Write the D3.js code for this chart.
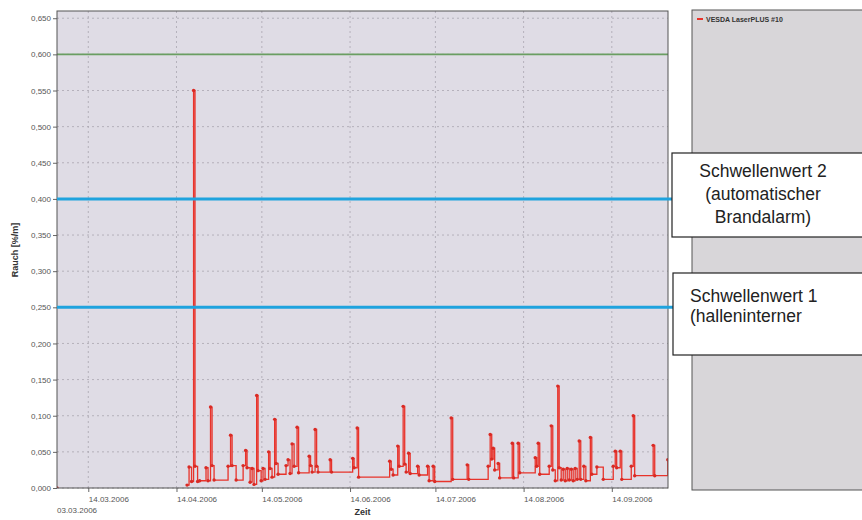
<!DOCTYPE html>
<html>
<head>
<meta charset="utf-8">
<script src="https://cdn.jsdelivr.net/npm/d3@7"></script>
<style>
  body { margin: 0; background: #fff; }
  text { font-family: "Liberation Sans", Arial, sans-serif; }
</style>
</head>
<body>
<svg id="chart" width="862" height="520"></svg>
<script>
"use strict";

const readingTimes = [
  "2006-03-03 00", "2006-04-17 17", "2006-04-18 10", "2006-04-19 07", "2006-04-20 00", "2006-04-20 12",
  "2006-04-21 10", "2006-04-22 03", "2006-04-24 09", "2006-04-25 02", "2006-04-25 23", "2006-04-26 12",
  "2006-04-27 05", "2006-05-02 03", "2006-05-03 00", "2006-05-03 13", "2006-05-04 23", "2006-05-07 10",
  "2006-05-08 07", "2006-05-08 19", "2006-05-09 21", "2006-05-10 14", "2006-05-11 06", "2006-05-12 04",
  "2006-05-12 16", "2006-05-13 18", "2006-05-14 10", "2006-05-15 03", "2006-05-16 09", "2006-05-16 21",
  "2006-05-17 14", "2006-05-18 12", "2006-05-19 00", "2006-05-19 17", "2006-05-22 12", "2006-05-23 05",
  "2006-05-23 22", "2006-05-24 15", "2006-05-25 08", "2006-05-26 09", "2006-05-26 22", "2006-05-30 15",
  "2006-05-31 03", "2006-05-31 16", "2006-06-01 17", "2006-06-02 06", "2006-06-02 18", "2006-06-07 00",
  "2006-06-07 12", "2006-06-14 22", "2006-06-15 10", "2006-06-16 12", "2006-06-17 00", "2006-06-27 22",
  "2006-06-28 11", "2006-06-29 03", "2006-06-30 18", "2006-07-01 06", "2006-07-02 16", "2006-07-03 05",
  "2006-07-03 17", "2006-07-04 14", "2006-07-05 03", "2006-07-07 18", "2006-07-08 07", "2006-07-11 06",
  "2006-07-11 19", "2006-07-13 05", "2006-07-13 18", "2006-07-19 13", "2006-07-20 02", "2006-07-25 04",
  "2006-07-25 17", "2006-08-01 13", "2006-08-02 06", "2006-08-02 19", "2006-08-03 07", "2006-08-03 20",
  "2006-08-05 01", "2006-08-05 14", "2006-08-10 00", "2006-08-10 12", "2006-08-12 02", "2006-08-12 15",
  "2006-08-18 02", "2006-08-18 14", "2006-08-19 03", "2006-08-19 16", "2006-08-23 00", "2006-08-23 17",
  "2006-08-24 06", "2006-08-25 03", "2006-08-26 00", "2006-08-26 12", "2006-08-27 05", "2006-08-27 22",
  "2006-08-28 15", "2006-08-29 08", "2006-08-30 01", "2006-08-30 18", "2006-08-31 10", "2006-09-01 03",
  "2006-09-01 20", "2006-09-02 13", "2006-09-03 02", "2006-09-04 04", "2006-09-04 21", "2006-09-06 11",
  "2006-09-06 23", "2006-09-08 18", "2006-09-11 00", "2006-09-14 12", "2006-09-15 05", "2006-09-15 17",
  "2006-09-16 23", "2006-09-17 12", "2006-09-20 20", "2006-09-21 13", "2006-09-22 01", "2006-09-28 13",
  "2006-09-29 02", "2006-10-03 16"
];
const readingValues = [
  0.000, 0.004, 0.029, 0.009, 0.550, 0.030,
  0.009, 0.010, 0.028, 0.010, 0.112, 0.031,
  0.011, 0.030, 0.073, 0.031, 0.011, 0.031,
  0.052, 0.028, 0.008, 0.027, 0.005, 0.128,
  0.024, 0.010, 0.027, 0.012, 0.050, 0.027,
  0.015, 0.095, 0.034, 0.019, 0.031, 0.039,
  0.020, 0.061, 0.030, 0.084, 0.021, 0.044,
  0.031, 0.022, 0.081, 0.030, 0.022, 0.039,
  0.022, 0.041, 0.028, 0.083, 0.015, 0.037,
  0.026, 0.018, 0.058, 0.030, 0.113, 0.033,
  0.022, 0.048, 0.020, 0.030, 0.018, 0.030,
  0.010, 0.030, 0.009, 0.097, 0.012, 0.032,
  0.012, 0.030, 0.074, 0.040, 0.055, 0.025,
  0.034, 0.014, 0.062, 0.014, 0.062, 0.021,
  0.042, 0.030, 0.062, 0.019, 0.030, 0.086,
  0.025, 0.010, 0.141, 0.028, 0.011, 0.026,
  0.010, 0.027, 0.011, 0.026, 0.010, 0.027,
  0.012, 0.065, 0.012, 0.030, 0.010, 0.070,
  0.019, 0.029, 0.012, 0.030, 0.051, 0.028,
  0.051, 0.012, 0.030, 0.100, 0.017, 0.059,
  0.017, 0.039
];

const yTicks = [0, 0.05, 0.1, 0.15, 0.2, 0.25, 0.3, 0.35, 0.4, 0.45, 0.5, 0.55, 0.6, 0.65];
const xTickDates = ["2006-03-14", "2006-04-14", "2006-05-14", "2006-06-14", "2006-07-14", "2006-08-14", "2006-09-14"];
const timeDomain = ["2006-03-03 00", "2006-10-03 18"];
const startLabel = "03.03.2006";

const seriesName = "VESDA LaserPLUS #10";
const alarmLimit = 0.6;
const thresholdValues = [0.4, 0.25];
const thresholdNotes = [
  ["Schwellenwert 2", "(automatischer", "Brandalarm)"],
  ["Schwellenwert 1", "(halleninterner"]
];

const parseHour = d3.utcParse("%Y-%m-%d %H");
const parseDay = d3.utcParse("%Y-%m-%d");
const fmtDay = d3.utcFormat("%d.%m.%Y");

const readings = readingTimes.map((t, i) => ({ t: parseHour(t), v: readingValues[i] }));

const svg = d3.select("#chart");
const plot = { left: 57, right: 668, top: 11, bottom: 488 };

const x = d3.scaleUtc().domain(timeDomain.map(parseHour)).range([plot.left, plot.right]);
const y = d3.scaleLinear().domain([0, 0.66]).range([plot.bottom, plot.top]);

// plot background
svg.append("rect")
  .attr("x", plot.left).attr("y", plot.top)
  .attr("width", plot.right - plot.left).attr("height", plot.bottom - plot.top)
  .attr("fill", "#dfdce5");

svg.append("clipPath").attr("id", "clip")
  .append("rect")
  .attr("x", plot.left).attr("y", plot.top)
  .attr("width", plot.right - plot.left).attr("height", plot.bottom - plot.top);

// grid
svg.append("g").selectAll("line.hg")
  .data(yTicks)
  .join("line")
  .attr("x1", plot.left).attr("x2", plot.right)
  .attr("y1", d => y(d)).attr("y2", d => y(d))
  .attr("stroke", "#a9a6b0").attr("stroke-width", 0.8).attr("stroke-dasharray", "2,3");

svg.append("g").selectAll("line.vg")
  .data(xTickDates.map(parseDay))
  .join("line")
  .attr("x1", d => x(d)).attr("x2", d => x(d))
  .attr("y1", plot.top).attr("y2", plot.bottom)
  .attr("stroke", "#a9a6b0").attr("stroke-width", 0.8).attr("stroke-dasharray", "2,3");

// y axis
const yAxis = d3.axisLeft(y).tickValues(yTicks).tickSize(4).tickPadding(2)
  .tickFormat(d => d3.format(".3f")(d).replace(".", ","));
const gy = svg.append("g").attr("transform", `translate(${plot.left},0)`).call(yAxis);
gy.select(".domain").remove();
gy.selectAll("line").attr("stroke", "#666");
gy.selectAll("text").attr("font-size", 8).attr("fill", "#555")
  .attr("font-family", "'Liberation Sans', Arial, sans-serif");

// x axis
const xAxis = d3.axisBottom(x).tickValues(xTickDates.map(parseDay)).tickSize(4).tickFormat(fmtDay);
const gx = svg.append("g").attr("transform", `translate(0,${plot.bottom})`).call(xAxis);
gx.select(".domain").remove();
gx.selectAll("line").attr("stroke", "#666");
gx.selectAll("text").attr("font-size", 8).attr("fill", "#555")
  .attr("text-anchor", "start").attr("dy", "0.9em")
  .attr("font-family", "'Liberation Sans', Arial, sans-serif");

svg.append("text")
  .attr("x", plot.left).attr("y", 513)
  .attr("font-size", 8).attr("fill", "#555")
  .text(startLabel);

svg.append("text")
  .attr("x", (plot.left + plot.right) / 2).attr("y", 515)
  .attr("text-anchor", "middle").attr("font-size", 9).attr("font-weight", "bold").attr("fill", "#333")
  .text("Zeit");

svg.append("text")
  .attr("transform", "translate(18,250) rotate(-90)")
  .attr("text-anchor", "middle").attr("font-size", 9).attr("font-weight", "bold").attr("fill", "#333")
  .text("Rauch [%/m]");

// alarm limit (green)
svg.append("line")
  .attr("x1", plot.left).attr("x2", plot.right)
  .attr("y1", y(alarmLimit)).attr("y2", y(alarmLimit))
  .attr("stroke", "#6a9e62").attr("stroke-width", 1.6);

// series: split where the logger was off
const segments = [];
readings.forEach((r, i) => {
  if (i === 0 || r.t - readings[i - 1].t > 14 * 864e5) segments.push([]);
  segments[segments.length - 1].push(r);
});

const line = d3.line().x(d => x(d.t)).y(d => y(d.v)).curve(d3.curveStepAfter);
const gs = svg.append("g").attr("clip-path", "url(#clip)");
gs.selectAll("path")
  .data(segments)
  .join("path")
  .attr("d", line)
  .attr("fill", "none").attr("stroke", "#e8332b").attr("stroke-width", 1.3);

gs.selectAll("circle")
  .data(readings)
  .join("circle")
  .attr("cx", d => x(d.t)).attr("cy", d => y(d.v)).attr("r", 1.7)
  .attr("fill", "#d92a24");

// frame
svg.append("rect")
  .attr("x", plot.left).attr("y", plot.top)
  .attr("width", plot.right - plot.left).attr("height", plot.bottom - plot.top)
  .attr("fill", "none").attr("stroke", "#555").attr("stroke-width", 1);

// thresholds (blue), reaching under the note boxes
svg.append("g").selectAll("line")
  .data(thresholdValues)
  .join("line")
  .attr("x1", plot.left).attr("x2", 674)
  .attr("y1", d => y(d)).attr("y2", d => y(d))
  .attr("stroke", "#1fa3de").attr("stroke-width", 3);

// legend panel
svg.append("rect")
  .attr("x", 692).attr("y", 10).attr("width", 175).attr("height", 480)
  .attr("fill", "#d8d6d9").attr("stroke", "#555").attr("stroke-width", 1);
svg.append("line")
  .attr("x1", 697).attr("x2", 703).attr("y1", 19).attr("y2", 19)
  .attr("stroke", "#e8332b").attr("stroke-width", 2);
svg.append("text")
  .attr("x", 706).attr("y", 22)
  .attr("font-size", 7).attr("font-weight", "bold").attr("fill", "#333")
  .text(seriesName);

// note boxes
const boxes = [
  { x: 672, y: 153, h: 84, anchor: "middle", tx: 763, ty: 177, step: 23 },
  { x: 673, y: 273, h: 82, anchor: "start", tx: 690, ty: 302, step: 20 }
];
boxes.forEach((b, i) => {
  svg.append("rect")
    .attr("x", b.x).attr("y", b.y).attr("width", 200).attr("height", b.h)
    .attr("fill", "#fff").attr("stroke", "#222").attr("stroke-width", 1.2);
  svg.append("g").selectAll("text")
    .data(thresholdNotes[i])
    .join("text")
    .attr("x", b.tx).attr("y", (d, j) => b.ty + j * b.step)
    .attr("text-anchor", b.anchor).attr("font-size", 17.5).attr("fill", "#222")
    .text(d => d);
});
</script>
</body>
</html>
